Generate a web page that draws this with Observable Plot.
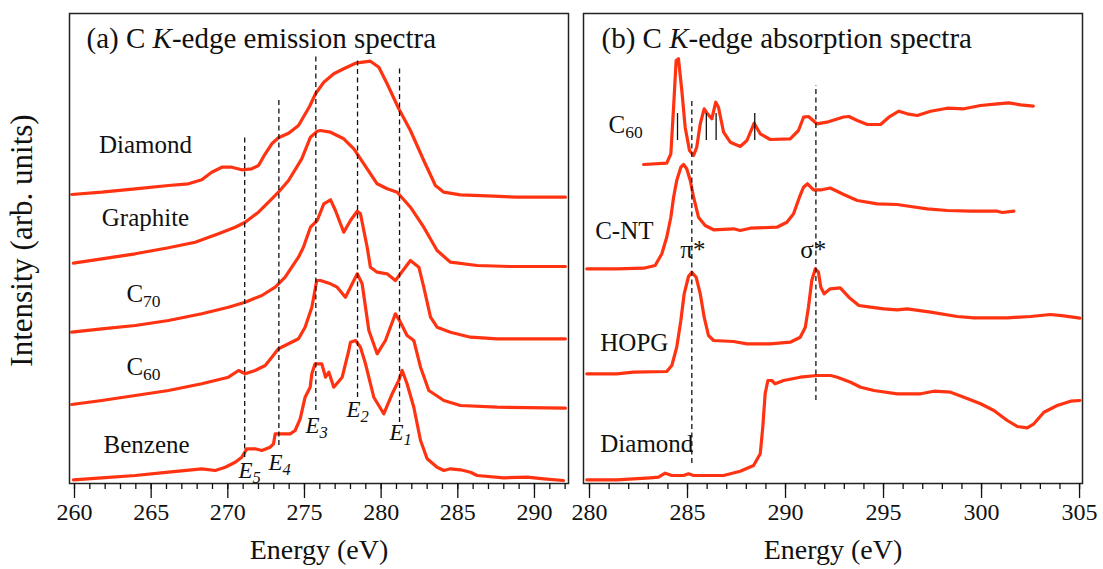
<!DOCTYPE html>
<html><head><meta charset="utf-8">
<script src="https://cdn.jsdelivr.net/npm/d3@7"></script>
<script src="https://cdn.jsdelivr.net/npm/@observablehq/plot@0.6"></script>
<style>
body{margin:0;background:#fff;}
#wrap{display:flex;width:1103px;height:569px;overflow:hidden;}
#wrap svg{display:block;}
</style></head><body><div id="wrap"></div>
<script>
// ---------- (a) emission spectra ----------
const emDiamondE = [259.82,261.78,263.96,266.13,267.43,268.30,268.95,269.61,270.26,270.91,271.56,272.00,272.44,272.87,273.30,273.96,274.61,275.33,275.72,276.26,276.91,277.56,278.33,279.30,279.85,280.39,281.15,281.91,282.78,283.54,284.09,285.17,287.35,288.87,292.02];
const emDiamondI = [289,291.3,294.7,298,299.7,303.7,311.3,316.3,316.3,313.7,314.7,318,329.7,339.7,345.7,350.3,358,377,389.7,401.3,409.7,414.7,420.3,422.3,416.3,399.7,374.7,353,323,298,291.3,288.7,287.3,286.3,286.3];
const emGraphiteE = [259.93,261.78,263.96,266.13,267.87,269.39,270.48,271.13,272.00,272.87,273.30,273.96,274.82,275.39,275.83,276.04,276.70,277.56,278.22,278.87,279.74,280.39,281.05,281.91,282.78,283.65,284.52,286.26,288.43,292.02];
const emGraphiteI = [220.3,224.7,229.7,235.7,241.3,249.7,256.3,261.3,271.3,284.7,291.3,303,324.7,346.3,352.3,353,351.3,344.7,334.7,319.7,299.7,294.7,291.3,276.3,256.3,233,221.3,218,217,217];
const emC70E = [259.82,261.78,263.96,266.13,268.30,270.04,271.13,272.22,273.09,273.74,274.17,274.61,274.93,275.39,275.83,276.26,276.70,277.02,277.56,278.00,278.44,278.65,279.09,279.30,279.74,280.39,280.93,281.26,281.91,282.46,282.78,283.22,283.65,284.52,285.83,287.57,292.02];
const emC70I = [151.3,154.7,158,163,169.7,176.3,181.3,188,196.3,206.3,216.3,226.3,236.3,256.3,263,279.7,283.7,273,251.3,263,272.3,269.7,236.3,216.3,211.3,209.7,203,209.7,223,216.3,196.3,166.3,156.3,151.3,146.3,144.7,144.7];
const emC60E = [259.82,261.78,263.96,266.13,268.30,270.04,270.70,271.13,271.78,272.44,272.87,273.30,273.96,274.61,275.04,275.48,275.80,276.04,276.70,277.13,277.67,278.00,278.44,278.76,279.20,279.74,280.28,280.93,281.26,281.69,282.13,282.57,283.11,284.09,285.17,287.57,292.02];
const emC60I = [79,83,88,93,99.7,106.3,113,109.7,113,118,126.3,134.7,139.7,144.7,156.3,176.3,203,203,199.7,196.3,186.3,196.3,209.7,199.7,153,129.7,143,169.7,161.3,148,143,116.3,93,83,78,76.3,75.3];
const emBenzeneE = [259.93,261.78,263.96,266.13,268.30,269.18,269.83,270.48,270.91,271.24,271.78,272.22,272.76,272.98,273.09,273.52,274.07,274.39,274.72,275.04,275.37,275.48,275.69,276.13,276.37,276.59,276.91,277.46,277.89,278.00,278.33,278.65,278.98,279.52,280.17,280.72,281.15,281.37,281.69,282.13,282.57,283.00,283.65,284.09,284.52,285.17,285.83,286.26,288.00,289.52,290.61,291.89];
const emBenzeneI = [3.7,5.7,8,11.3,14.7,13,16.3,21.3,26.3,34.7,34.7,33,36.3,39.7,49.7,49.7,49.7,53,64.7,86.3,96.3,109.7,119.7,119.7,106.3,111.3,96.3,106.3,133,141.3,143,136.3,119.7,86.3,69.7,89.7,103,113,99.7,76.3,43,24.7,16.3,13,14.7,13.7,11.3,8,5.7,6.3,4.7,3];

const emNames = ["Diamond","Graphite","C70","C60","Benzene"];
const emLabelE = [264.63,264.63,264.5,264.5,264.7];
const emLabelI = [338.3,266,189.3,116.3,38.3];

const emPeakNames = ["E5","E4","E3","E2","E1"];
const emPeakE = [271.1,273.33,275.74,278.46,281.2];
const emPeakTop = [348,384,428,425,416];
const emPeakBottom = [26,38,73,86,61];
const emPeakLabelE = [270.70,272.65,275.07,277.74,280.54];
const emPeakLabelI = [13,21,57.7,73.7,50.4];

// ---------- (b) absorption spectra ----------
const abC60E = [282.76,283.94,284.15,284.29,284.42,284.54,284.71,284.88,285.10,285.31,285.47,285.65,285.85,286.02,286.24,286.44,286.58,286.84,287.18,287.69,288.03,288.40,288.71,289.22,290.24,290.66,290.92,291.17,291.60,292.11,292.96,293.23,293.66,294.17,294.85,295.27,295.78,296.21,296.72,297.40,298.25,299.10,299.95,300.80,301.39,301.99,302.64];
const abC60I = [319,320.3,329.7,376.3,423,424.7,393,356.3,333,328,336.3,359.7,374.7,369.7,364.7,381.3,376.3,351.3,341.3,337,343,360.3,349.7,344,344.7,353,366.3,367,359.7,361.3,366.5,367,363,359,359,366.3,372.3,369.7,368,372.3,375.3,374.7,378,379.7,380.7,378.7,377.3];
const abCNTE = [279.86,281.39,282.76,283.35,283.69,283.94,284.15,284.29,284.45,284.66,284.80,284.96,285.14,285.31,285.56,285.90,286.33,287.35,287.69,288.20,289.56,290.07,290.41,290.71,290.92,291.12,291.43,291.85,292.28,292.97,293.66,294.68,295.70,296.38,297.23,298.25,299.44,300.80,301.06,301.65];
const abCNTI = [214.7,214.7,215.3,218,229.7,246.3,266.3,286.3,303,316.3,319,314.7,303,286.3,266.3,258,253.7,254.7,253,255.3,256.3,261.3,269.7,286.3,296.3,299.7,293.7,293.7,295.5,289,283,279.7,279,277,274.7,273,272.3,272.3,271,272.3];
const abHOPGE = [279.86,281.39,282.24,283.94,284.20,284.45,284.66,284.83,285.05,285.22,285.44,285.65,285.85,286.07,286.33,287.35,288.03,289.22,290.24,290.75,291.01,291.17,291.34,291.52,291.68,291.80,291.97,292.28,292.79,293.23,293.74,294.34,295.02,295.70,296.21,297.40,298.76,299.61,301.31,302.50,303.52,304.20,305.02];
const abHOPGI = [109.7,109.7,111.3,112,118,136.3,163,189.7,207,211.3,206.3,189.7,166.3,148,143,142,139.7,139.7,141.3,146.3,156.3,176.3,203,214.7,211.3,196.3,189.7,194.7,195.7,186.3,178,176.3,174.7,173.7,174.7,171.3,167,165.7,165.7,167,169,167.7,165.3];
const abDiamondE = [279.86,281.39,282.24,283.10,283.52,283.86,284.20,284.80,285.05,285.31,286.84,287.69,288.37,288.71,288.84,288.96,289.10,289.30,289.47,289.90,290.75,291.60,292.30,292.64,293.32,293.83,294.51,295.70,296.89,297.57,298.42,299.10,299.95,300.63,301.31,301.82,302.33,302.67,303.18,303.86,304.54,305.02];
const abDiamondI = [3.7,3.7,4.7,5.7,6.3,10.3,8,8,9.7,8,8,12.3,18,29.7,56.3,89.7,103,103,99.7,103,106.3,108,108,106.3,101.3,96.3,93,89.7,89.7,92.3,91.3,86.3,79.7,73,63,57,55.7,59.7,71.3,78,82.3,83];

const abNames = ["C60","C-NT","HOPG","Diamond"];
const abLabelE = [280.97,280.29,280.55,280.55];
const abLabelI = [358.3,252.7,141,39.3];

const abC60MarkE = [284.49,285.96,286.46,288.43];
const abC60MarkTop = [370,370,370,370];
const abC60MarkBottom = [343,343,343,343];

const abEdgeNames = ["π*","σ*"];
const abEdgeE = [285.22,291.55];
const abEdgeTop = [385,398];
const abEdgeBottom = [20,83];
const abEdgeLabelE = [284.63,290.75];
const abEdgeLabelI = [234,234];

// ---------- helpers ----------
const FONT = '"Liberation Serif","Times New Roman",Times,serif';
const RED = "#ff3311";
const INK = "#111";

function rows(name, E, I) { return E.map((e, i) => ({name, e, v: I[i]})); }

function panel(o) {
  const curves = o.series.flatMap(s => rows(s[0], s[1], s[2]));
  const labels = o.labelNames.map((n, i) => ({n, e: o.labelE[i], v: o.labelI[i]}));
  const dashes = o.dashE.map((e, i) => ({e, t: o.dashTop[i], b: o.dashBottom[i]}));
  const marks = [
    Plot.line(curves, {x: "e", y: "v", z: "name", stroke: RED, strokeWidth: 3.2, strokeLinejoin: "round", strokeLinecap: "round"}),
    Plot.ruleX(dashes, {x: "e", y1: "b", y2: "t", stroke: INK, strokeWidth: 1.3, strokeDasharray: "5,3.5"}),
    Plot.text(labels, {x: "e", y: "v", text: "n", textAnchor: o.labelAnchor, fontSize: 25, fill: INK}),
    Plot.frame({stroke: "#222", strokeWidth: 1.5}),
    Plot.axisX({ticks: o.minor, tickSize: 6, tickFormat: () => "", label: null, stroke: INK, strokeWidth: 1.3}),
    Plot.axisX({ticks: o.major, tickSize: 15, tickPadding: 4, fontSize: 24, tickFormat: d => String(d), label: null, stroke: INK, strokeWidth: 1.3, fill: INK}),
    Plot.text([o.title], {frameAnchor: "top-left", dx: o.titleDx, dy: 14, textAnchor: "start", fontSize: 29, fill: INK}),
    Plot.text(["Energy (eV)"], {frameAnchor: "bottom", lineAnchor: "middle", dy: 67, fontSize: 28, fill: INK}),
    ...(o.extra || [])
  ];
  return Plot.plot({
    width: o.width, height: 569,
    marginTop: 13, marginBottom: 86, marginLeft: o.marginLeft, marginRight: o.marginRight,
    x: {domain: o.domain, label: null},
    y: {domain: [0, 470], axis: null},
    style: {fontFamily: FONT, color: INK, background: "#fff", overflow: "visible"},
    marks
  });
}

const left = panel({
  width: 576, marginLeft: 69, marginRight: 8,
  domain: [259.674, 292.22],
  major: d3.range(260, 291, 5), minor: d3.range(260, 293, 1),
  series: [["Diamond", emDiamondE, emDiamondI], ["Graphite", emGraphiteE, emGraphiteI], ["C70", emC70E, emC70I], ["C60", emC60E, emC60I], ["Benzene", emBenzeneE, emBenzeneI]],
  labelNames: emNames, labelE: emLabelE, labelI: emLabelI, labelAnchor: "middle",
  dashE: emPeakE, dashTop: emPeakTop, dashBottom: emPeakBottom,
  title: "(a) C K-edge emission spectra", titleDx: 17,
  extra: [
    Plot.text(emPeakNames.map((n, i) => ({n, e: emPeakLabelE[i], v: emPeakLabelI[i]})), {x: "e", y: "v", text: "n", textAnchor: "start", fontSize: 23, fill: INK}),
    Plot.text(["Intensity (arb. units)"], {frameAnchor: "left", textAnchor: "middle", lineAnchor: "middle", dx: -47, dy: -8, rotate: -90, fontSize: 31, fill: INK})
  ]
});

const right = panel({
  width: 527, marginLeft: 7, marginRight: 21,
  domain: [279.694, 305.15],
  major: d3.range(280, 306, 5), minor: d3.range(280, 306, 1),
  series: [["C60", abC60E, abC60I], ["C-NT", abCNTE, abCNTI], ["HOPG", abHOPGE, abHOPGI], ["Diamond", abDiamondE, abDiamondI]],
  labelNames: abNames, labelE: abLabelE, labelI: abLabelI, labelAnchor: "start",
  dashE: abEdgeE, dashTop: abEdgeTop, dashBottom: abEdgeBottom,
  title: "(b) C K-edge absorption spectra", titleDx: 18,
  extra: [
    Plot.ruleX(abC60MarkE.map((e, i) => ({e, t: abC60MarkTop[i], b: abC60MarkBottom[i]})), {x: "e", y1: "b", y2: "t", stroke: INK, strokeWidth: 1.3}),
    Plot.text(abEdgeNames.map((n, i) => ({n, e: abEdgeLabelE[i], v: abEdgeLabelI[i]})), {x: "e", y: "v", text: "n", textAnchor: "start", fontSize: 25, fill: INK})
  ]
});

const wrap = document.getElementById("wrap");
wrap.append(left, right);

// rich text: italic K, subscripts, italic E labels
const sub = d => `<tspan font-size="0.7em" dy="0.3em">${d}</tspan>`;
for (const t of wrap.querySelectorAll("text")) {
  const s = t.textContent;
  if (/^\(.\) C K-edge/.test(s)) {
    t.innerHTML = s.replace("C K-edge", 'C <tspan font-style="italic">K</tspan>-edge');
  } else if (/^C(60|70)$/.test(s)) {
    t.innerHTML = "C" + sub(s.slice(1));
  } else if (/^E[1-5]$/.test(s)) {
    t.innerHTML = `<tspan font-style="italic">E</tspan><tspan font-style="italic" font-size="0.72em" dy="0.3em">${s.slice(1)}</tspan>`;
  }
}
</script>
</body></html>
